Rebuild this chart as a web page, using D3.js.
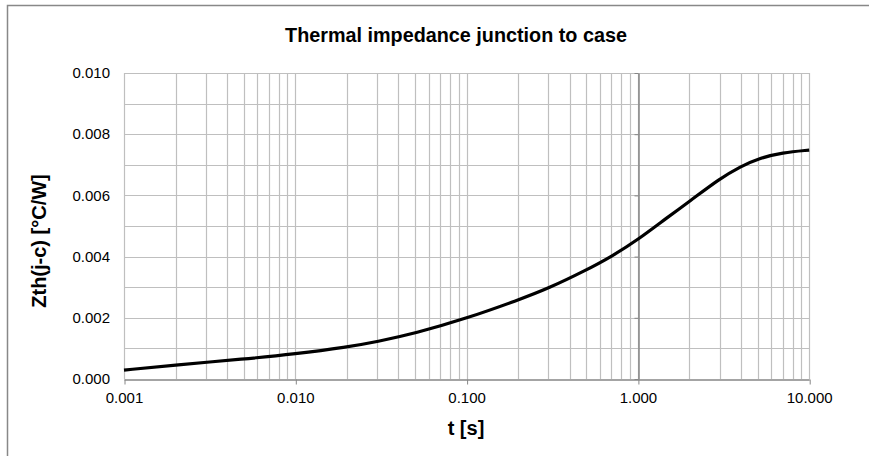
<!DOCTYPE html>
<html>
<head>
<meta charset="utf-8">
<script src="https://cdn.jsdelivr.net/npm/d3@7"></script>
<style>
  html, body { margin:0; padding:0; background:#fff; overflow:hidden; }
  svg { display:block; font-family:"Liberation Sans", Arial, sans-serif; }
</style>
</head>
<body>
<div id="view"></div>
<script>
// ===== data =====
const tValues   = [0.001, 0.002, 0.005, 0.01, 0.02, 0.03, 0.05, 0.1, 0.2, 0.3, 0.5, 0.7, 1, 1.5, 2, 3, 4, 5, 7, 10];
const zthValues = [0.00029, 0.00046, 0.00065, 0.00082, 0.00104, 0.00122, 0.00149, 0.00198, 0.00258, 0.00296, 0.00356, 0.0040, 0.00455, 0.0053, 0.0058, 0.00655, 0.00695, 0.0072, 0.0074, 0.00748];
const xTickValues = [0.001, 0.01, 0.1, 1, 10];
const xTickLabels = ["0.001", "0.010", "0.100", "1.000", "10.000"];
const yTickValues = [0, 0.002, 0.004, 0.006, 0.008, 0.010];
const yTickLabels = ["0.000", "0.002", "0.004", "0.006", "0.008", "0.010"];

const W = 869, H = 456;
const M = { t:73, r:60, b:77, l:124 };

const svg = d3.select("#view").append("svg").attr("width", W).attr("height", H);

// chart border: only the top and left edges are in the shot
svg.append("path")
  .attr("d", `M7.5,${H}V5.5H${W}`)
  .attr("fill", "none").attr("stroke", "#888").attr("stroke-width", 1.5);

const x = d3.scaleLog().domain([0.001, 10]).range([M.l, W - M.r + 0.2]);
const y = d3.scaleLinear().domain([0, 0.010]).range([H - M.b, M.t]);

const crisp = v => Math.round(v) + 0.5;

// ---- grid ----
const minorX = [];
for (let d = 0.001; d < 10; d *= 10) for (let k = 1; k <= 10; k++) minorX.push(+(d * k).toPrecision(3));
const gx = svg.append("g").attr("stroke", "#bfbfbf").attr("stroke-width", 1.2);
gx.selectAll("line.vx").data(Array.from(new Set(minorX))).join("line")
  .attr("x1", d => crisp(x(d))).attr("x2", d => crisp(x(d)))
  .attr("y1", y(0.010)).attr("y2", y(0));
gx.selectAll("line.hy").data(d3.range(1, 11).map(i => i * 0.001)).join("line")
  .attr("x1", x(0.001)).attr("x2", x(10))
  .attr("y1", d => crisp(y(d))).attr("y2", d => crisp(y(d)));

// ---- axes ----
// bottom axis
const xAxis = svg.append("g").attr("transform", `translate(0,${crisp(y(0))})`)
  .call(d3.axisBottom(x).tickValues(xTickValues).tickFormat((d, i) => xTickLabels[i]).tickSize(5).tickSizeOuter(0).tickPadding(8));
xAxis.select(".domain").attr("stroke", "#868686").attr("stroke-width", 1.5);
xAxis.selectAll(".tick line").attr("stroke", "#868686").attr("transform", "translate(0.5,0)");
xAxis.selectAll(".tick text").attr("fill", "#000").style("font-size", "15px");

// vertical axis crosses at t = 1
const yAxis = svg.append("g").attr("transform", `translate(${crisp(x(1))},0)`)
  .call(d3.axisLeft(y).tickValues(yTickValues).tickFormat("").tickSize(4).tickSizeOuter(0));
yAxis.select(".domain").attr("stroke", "#868686").attr("stroke-width", 1.5);
yAxis.selectAll(".tick line").attr("stroke", "#868686");

// y tick labels sit at the low side
svg.append("g").selectAll("text").data(yTickValues).join("text")
  .attr("x", 110).attr("y", d => y(d)).attr("dy", "0.35em")
  .attr("text-anchor", "end").style("font-size", "15px").attr("fill", "#000")
  .text((d, i) => yTickLabels[i]);

// ---- curve ----
const pts = tValues.map((t, i) => [x(t), y(zthValues[i])]);
svg.append("path").datum(pts)
  .attr("fill", "none").attr("stroke", "#000").attr("stroke-width", 3.2)
  .attr("stroke-linejoin", "round")
  .attr("d", d3.line().curve(d3.curveBasis));

// ---- titles ----
svg.append("text").attr("x", 456).attr("y", 42).attr("text-anchor", "middle")
  .style("font-size", "19.8px").style("font-weight", "bold")
  .text("Thermal impedance junction to case");

svg.append("text").attr("x", 466).attr("y", 435).attr("text-anchor", "middle")
  .style("font-size", "20px").style("font-weight", "bold")
  .text("t [s]");

svg.append("text").attr("transform", "translate(46,241) rotate(-90)").attr("text-anchor", "middle")
  .style("font-size", "20px").style("font-weight", "bold")
  .text("Zth(j-c) [°C/W]");
</script>
</body>
</html>
